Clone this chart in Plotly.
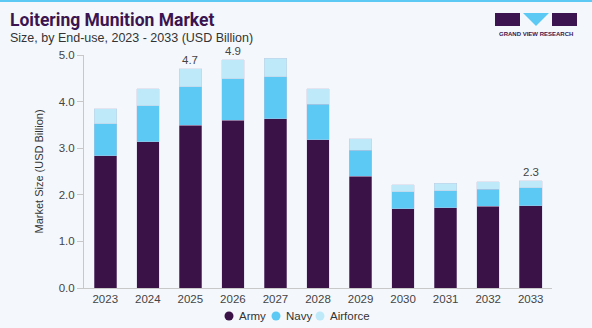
import plotly.graph_objects as go

# Loitering munition market by end-use (USD Billion)
years = ["2023", "2024", "2025", "2026", "2027", "2028", "2029", "2030", "2031", "2032", "2033"]
army = [2.84, 3.14, 3.49, 3.60, 3.63, 3.18, 2.40, 1.70, 1.72, 1.75, 1.77]
navy = [0.69, 0.77, 0.83, 0.89, 0.90, 0.76, 0.56, 0.37, 0.37, 0.37, 0.38]
airforce = [0.32, 0.37, 0.38, 0.41, 0.40, 0.34, 0.24, 0.15, 0.16, 0.16, 0.15]
labelled_years = ["2025", "2026", "2033"]

y_ticks = [0, 1, 2, 3, 4, 5]
y_tick_text = ["0.0", "1.0", "2.0", "3.0", "4.0", "5.0"]

series = [
    ("Army", army, "#3a1248"),
    ("Navy", navy, "#5cc9f5"),
    ("Airforce", airforce, "#bde9f9"),
]

W, H = 592, 328
ML, MR, MT, MB = 84, 40, 55, 40
PW, PH = W - ML - MR, H - MT - MB

# legend swatch centres (page pixels)
LEGEND_X = [229, 276, 320]
LEGEND_Y = 316


def px_x(x):
    return (x - ML) / PW


def px_y(y):
    return (H - MB - y) / PH


fig = go.Figure()
for name, vals, color in series:
    fig.add_trace(go.Bar(
        x=years, y=vals, name=name, marker_color=color,
        marker_line=dict(color="rgba(200,195,220,0.6)", width=0.6),
        showlegend=False,
    ))

totals = [a + n + f for a, n, f in zip(army, navy, airforce)]
annotations = []
for i, (yr, tot) in enumerate(zip(years, totals)):
    if yr in labelled_years:
        annotations.append(dict(
            x=i, y=tot, xref="x", yref="y", text=f"{tot:.1f}", showarrow=False,
            yanchor="bottom", yshift=1, font=dict(size=11.5, color="#444"),
        ))

annotations += [
    dict(xref="paper", yref="paper", x=px_x(8), y=px_y(8), xanchor="left", yanchor="top",
         text="<b>Loitering Munition Market</b>", showarrow=False,
         font=dict(family="Roboto", size=17.5, color="#3b1450")),
    dict(xref="paper", yref="paper", x=px_x(8), y=px_y(29), xanchor="left", yanchor="top",
         text="Size, by End-use, 2023 - 2033 (USD Billion)", showarrow=False,
         font=dict(family="Liberation Sans", size=12.5, color="#333")),
    dict(xref="paper", yref="paper", x=px_x(536), y=px_y(29), xanchor="center", yanchor="top",
         text="<b>GRAND VIEW RESEARCH</b>", showarrow=False,
         font=dict(family="Liberation Sans", size=6, color="#3b1450")),
]

shapes = [
    # top accent line
    dict(type="rect", xref="paper", yref="paper", x0=px_x(0), x1=px_x(W), y0=px_y(2), y1=px_y(0),
         fillcolor="#5cc9f5", line_width=0, layer="above"),
    # logo blocks
    dict(type="rect", xref="paper", yref="paper", x0=px_x(495), x1=px_x(520), y0=px_y(26), y1=px_y(13),
         fillcolor="#3b1450", line_width=0),
    dict(type="path", xref="paper", yref="paper",
         path=f"M {px_x(523)} {px_y(13)} L {px_x(549)} {px_y(13)} L {px_x(536)} {px_y(26)} Z",
         fillcolor="#5cc9f5", line_width=0),
    dict(type="rect", xref="paper", yref="paper", x0=px_x(552), x1=px_x(577), y0=px_y(26), y1=px_y(13),
         fillcolor="#3b1450", line_width=0),
]

# legend: round swatches with series names
r = 4.5
for (name, _, color), cx in zip(series, LEGEND_X):
    shapes.append(dict(type="circle", xref="paper", yref="paper",
                       x0=px_x(cx - r), x1=px_x(cx + r), y0=px_y(LEGEND_Y + r), y1=px_y(LEGEND_Y - r),
                       fillcolor=color, line_width=0))
    annotations.append(dict(xref="paper", yref="paper", x=px_x(cx + 8), y=px_y(LEGEND_Y),
                            xanchor="left", yanchor="middle", text=name, showarrow=False,
                            font=dict(size=11.5, color="#333")))

fig.update_layout(
    barmode="stack",
    bargap=0.47,
    width=W, height=H,
    margin=dict(l=ML, r=MR, t=MT, b=MB),
    paper_bgcolor="#f4f8fc",
    plot_bgcolor="#f4f8fc",
    font=dict(family="Liberation Sans", size=11, color="#444"),
    annotations=annotations,
    shapes=shapes,
    showlegend=False,
    xaxis=dict(type="category", categoryorder="array", categoryarray=years,
               range=[-0.5, len(years) - 0.5],
               showline=True, linecolor="#c8c8c8", linewidth=1, ticks="", showgrid=False,
               tickfont=dict(size=11.5, color="#444")),
    yaxis=dict(range=[0, 5], tickvals=y_ticks, ticktext=y_tick_text, showline=True,
               linecolor="#c8c8c8", linewidth=1, ticks="outside", ticklen=6, tickcolor="#c8c8c8",
               showgrid=False, zeroline=False, tickfont=dict(size=11.5, color="#444"),
               title=dict(text="Market Size (USD Billion)", standoff=12,
                          font=dict(size=11, color="#333"))),
)

fig.write_html("out.html")
